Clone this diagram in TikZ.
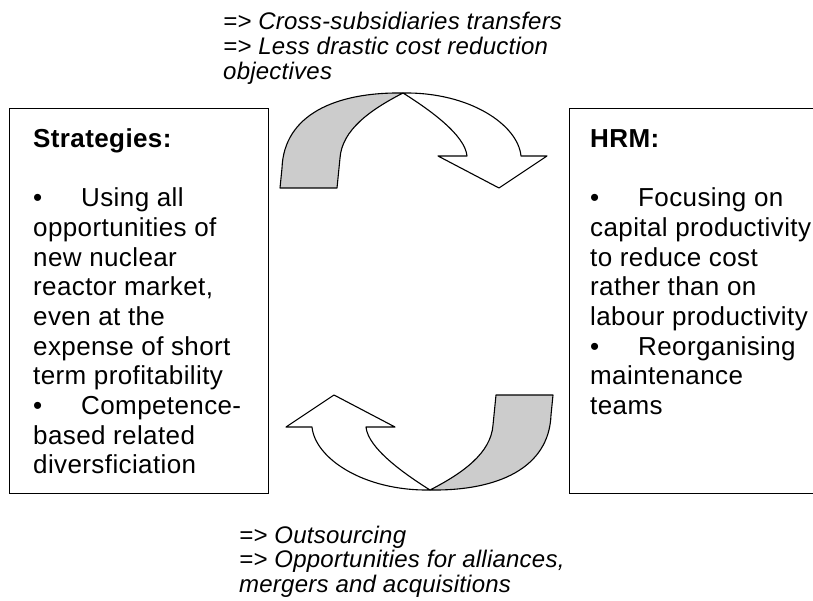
\documentclass[tikz,border=0pt]{standalone}
\usepackage{fontspec}
\setmainfont{Liberation Sans}
\newfontfamily\bodyfont[LetterSpace=1.5]{Liberation Sans}
\newfontfamily\notefont[LetterSpace=1]{Liberation Sans}
\definecolor{arrowgray}{RGB}{204,204,204}
\tikzset{
  panel/.style={draw=black, line width=1.4pt, rectangle, inner sep=0pt, anchor=north west},
  bodytext/.style={anchor=base west, inner sep=0pt, font=\bodyfont\fontsize{26}{29.7}\selectfont},
  notetext/.style={anchor=base west, inner sep=0pt, font=\notefont\fontsize{24}{24.8}\selectfont\itshape},
  bandback/.style={fill=arrowgray, draw=black, line width=1.1pt, line join=round},
  bandfront/.style={fill=white, draw=black, line width=1.1pt, line join=round},
}
\newcommand{\bul}{\makebox[48pt][l]{\textbullet}}
\begin{document}
\begin{tikzpicture}[x=1pt,y=-1pt]
\useasboundingbox (0,0) rectangle (813,601);
\fill[white] (0,0) rectangle (813,601);
\node[panel, minimum width=259pt, minimum height=385pt] (strat) at (9,108) {};
\node[panel, minimum width=270pt, minimum height=385pt] (hrm) at (569,108) {};
\node[bodytext] (strattext) at (33,148) {\parbox[t]{300pt}{\textbf{Strategies:}\\[29pt]
\bul Using all\\
opportunities of\\
new nuclear\\
reactor market,\\
even at the\\
expense of short\\
term profitability\\
\bul Competence-\\
based related\\
diversficiation}};
\node[bodytext] (hrmtext) at (590,148) {\parbox[t]{300pt}{\textbf{HRM:}\\[29pt]
\bul Focusing on\\
capital productivity\\
to reduce cost\\
rather than on\\
labour productivity\\
\bul Reorganising\\
maintenance\\
teams}};
\node[notetext] (topnote) at (223,30) {\parbox[t]{400pt}{=> Cross-subsidiaries transfers\\
=> Less drastic cost reduction\\
objectives}};
\node[notetext] (botnote) at (239,543) {\parbox[t]{400pt}{=> Outsourcing\\
=> Opportunities for alliances,\\
mergers and acquisitions}};
% top curved arrow
\draw[bandback] (280,188) -- (282,168) .. controls (284,115) and (335,92) .. (403,93)
  .. controls (370,110) and (342,130) .. (340,158) -- (337,188) -- cycle;
\draw[bandfront] (403,93) .. controls (470,92) and (518,125) .. (521,156) -- (547,156)
  -- (499,188) -- (438,156) -- (467,156) .. controls (465,135) and (430,110) .. (403,93) -- cycle;
% bottom curved arrow
\begin{scope}[rotate around={180:(416.5,291.5)}]
\draw[bandback] (280,188) -- (282,168) .. controls (284,115) and (335,92) .. (403,93)
  .. controls (370,110) and (342,130) .. (340,158) -- (337,188) -- cycle;
\draw[bandfront] (403,93) .. controls (470,92) and (518,125) .. (521,156) -- (547,156)
  -- (499,188) -- (438,156) -- (467,156) .. controls (465,135) and (430,110) .. (403,93) -- cycle;
\end{scope}
\end{tikzpicture}
\end{document}
